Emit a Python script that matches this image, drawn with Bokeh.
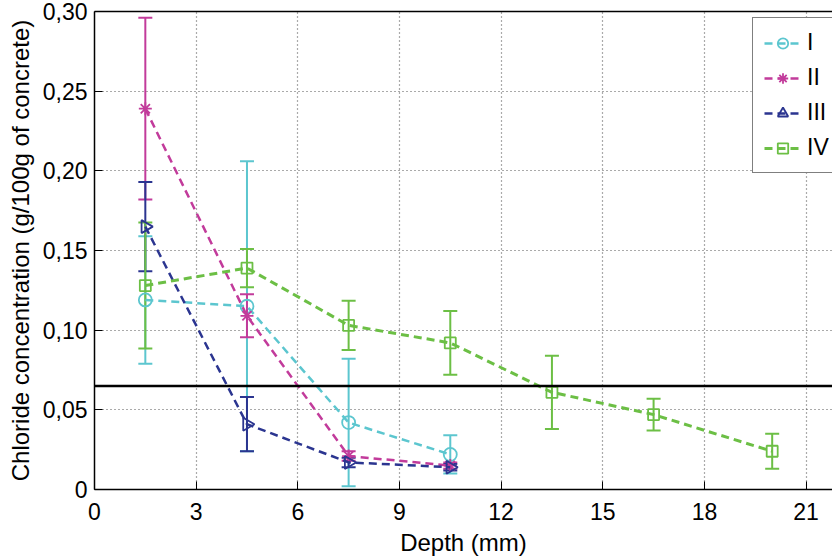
from bokeh.plotting import figure
from bokeh.models import (ColumnDataSource, Whisker, TeeHead, Span, Range1d, LinearAxis,
                          FixedTicker, Legend, LegendItem)
from bokeh.embed import file_html
from bokeh.resources import INLINE

# ---- data ----
depth_short = [1.5, 4.5, 7.5, 10.5]
depth_long = [1.5, 4.5, 7.5, 10.5, 13.5, 16.5, 20.0]

s1_y = [0.119, 0.115, 0.042, 0.022]
s1_err = [0.040, 0.091, 0.040, 0.012]

s2_y = [0.239, 0.109, 0.021, 0.015]
s2_err = [0.057, 0.0135, 0.003, 0.002]

s3_y = [0.165, 0.041, 0.017, 0.014]
s3_err = [0.028, 0.017, 0.003, 0.002]

s4_y = [0.128, 0.139, 0.103, 0.092, 0.061, 0.047, 0.024]
s4_err = [0.0395, 0.012, 0.0155, 0.020, 0.023, 0.010, 0.011]

series_names = ["I", "II", "III", "IV"]
series_colors = ["#5CC6CF", "#C23B9B", "#2B3590", "#6CBF45"]
series_markers = ["circle", "asterisk", "triangle", "square"]

threshold = 0.065

xtick_values = [0, 3, 6, 9, 12, 15, 18, 21]
ytick_values = [0, 0.05, 0.10, 0.15, 0.20, 0.25, 0.30]
ytick_labels = ["0", "0,05", "0,10", "0,15", "0,20", "0,25", "0,30"]

x_label = "Depth (mm)"
y_label = "Chloride concentration (g/100g of concrete)"

FONT = "Liberation Sans"

p = figure(width=832, height=560, output_backend="svg", toolbar_location=None,
           x_range=Range1d(0, 21.78), y_range=Range1d(0, 0.30),
           min_border_left=94, min_border_right=0, min_border_top=11, min_border_bottom=71)
p.outline_line_color = None
p.background_fill_color = "white"

# axes styling
for ax in [p.xaxis[0], p.yaxis[0]]:
    ax.major_tick_in = 8
    ax.major_tick_out = 0
    ax.minor_tick_in = 0
    ax.minor_tick_out = 0
    ax.axis_line_color = "black"
    ax.axis_line_width = 1.5
    ax.major_tick_line_color = "black"
    ax.major_label_text_font = FONT
    ax.major_label_text_font_size = "23px"
    ax.major_label_text_color = "black"
    ax.axis_label_text_font = FONT
    ax.axis_label_text_font_size = "24px"
    ax.axis_label_text_font_style = "normal"
    ax.axis_label_text_color = "black"

p.xaxis[0].ticker = FixedTicker(ticks=xtick_values)
p.yaxis[0].ticker = FixedTicker(ticks=ytick_values)
p.yaxis[0].major_label_overrides = {v: l for v, l in zip(ytick_values, ytick_labels)}
p.xaxis[0].axis_label = x_label
p.yaxis[0].axis_label = y_label
p.xaxis[0].major_label_standoff = 13
p.xaxis[0].axis_label_standoff = 6
p.yaxis[0].major_label_standoff = 7
p.yaxis[0].axis_label_standoff = 6

top_axis = LinearAxis(ticker=FixedTicker(ticks=[]), major_tick_in=0, major_tick_out=0,
                      minor_tick_in=0, minor_tick_out=0, axis_line_width=1.5,
                      axis_line_color="black")
p.add_layout(top_axis, "above")

# grid
for g in [p.xgrid[0], p.ygrid[0]]:
    g.grid_line_color = "#444444"
    g.grid_line_dash = "1 3"
    g.grid_line_width = 1.2
    g.grid_line_alpha = 0.9

# threshold line
p.add_layout(Span(location=threshold, dimension="width", line_color="black", line_width=2.5))

items = []
all_x = [depth_short, depth_short, depth_short, depth_long]
all_y = [s1_y, s2_y, s3_y, s4_y]
all_err = [s1_err, s2_err, s3_err, s4_err]
for name, col, mk, xs, ys, es in zip(series_names, series_colors, series_markers, all_x, all_y, all_err):
    src = ColumnDataSource(dict(x=xs, y=ys,
                                upper=[a + b for a, b in zip(ys, es)],
                                lower=[a - b for a, b in zip(ys, es)]))
    lw = 3 if name == "IV" else 2.5
    wh = Whisker(source=src, base="x", upper="upper", lower="lower",
                 line_color=col, line_width=2,
                 upper_head=TeeHead(size=14, line_color=col, line_width=2),
                 lower_head=TeeHead(size=14, line_color=col, line_width=2))
    p.add_layout(wh)
    lr = p.line("x", "y", source=src, line_color=col, line_width=lw, line_dash="8 5")
    sz = 11 if mk == "square" else 13
    sr = p.scatter("x", "y", source=src, marker=mk, size=sz, fill_color=None,
                   line_color=col, line_width=1.8,
                   angle=(-1.5708 if mk == "triangle" else 0.0))
    items.append(LegendItem(label=name, renderers=[lr, sr]))

legend = Legend(items=items, location=(658, 316))
legend.label_text_font = FONT
legend.label_text_font_size = "23px"
legend.label_text_color = "black"
legend.label_height = 26
legend.glyph_height = 26
legend.glyph_width = 37
legend.spacing = 8
legend.padding = 11
legend.margin = 0
legend.label_standoff = 6
legend.border_line_color = "black"
legend.border_line_width = 1.2
legend.background_fill_color = "white"
legend.background_fill_alpha = 1.0
p.add_layout(legend, "center")

open("out.html", "w").write(file_html(p, INLINE))
